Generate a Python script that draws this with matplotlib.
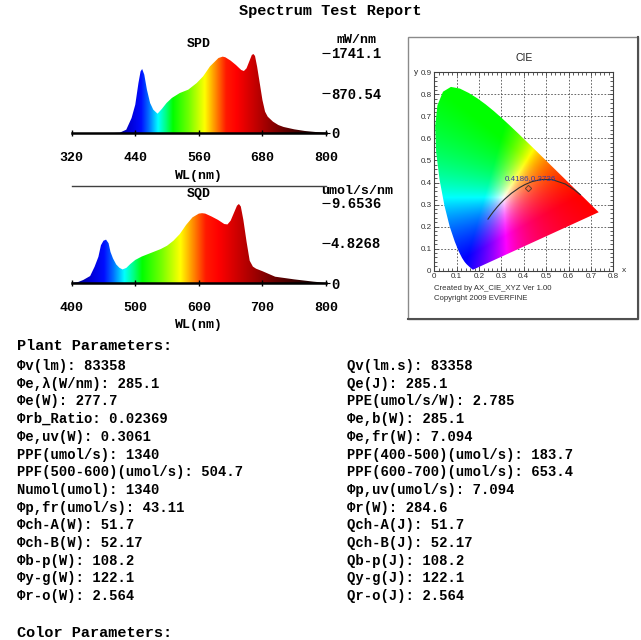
import matplotlib
matplotlib.use('Agg')
import matplotlib.pyplot as plt
import numpy as np
from matplotlib.patches import Polygon, Rectangle
from matplotlib.lines import Line2D
from matplotlib.ticker import MultipleLocator, FuncFormatter

# ---- data ----
spd_wl = [320, 340, 360, 380, 400, 411, 423, 433, 440, 446, 450, 453, 457, 462, 468, 474,
          482, 490, 499, 509, 524, 540, 556, 568, 581, 597, 605, 610, 620, 630, 640, 645,
          650, 655, 660, 663, 666, 670, 675, 680, 685, 690, 700, 710, 720, 740, 760, 780, 800]
spd_val = [0, 0, 0, 0, 2, 8, 72, 326, 616, 1088, 1340, 1393, 1270, 943, 653, 508,
           420, 522, 653, 762, 870, 943, 1088, 1232, 1450, 1632, 1662, 1648, 1575, 1480, 1371, 1349,
           1408, 1553, 1698, 1719, 1676, 1443, 1081, 718, 464, 355, 246, 174, 131, 80, 44, 22, 8]
spd_ticks = [0, 870.54, 1741.1]

sqd_wl = [400, 410, 418, 429, 436, 442, 446, 450, 454, 458, 461, 465, 470, 475, 480, 486,
          492, 500, 510, 520, 530, 540, 550, 560, 570, 580, 590, 600, 605, 610, 620, 630,
          640, 645, 650, 655, 660, 663, 666, 670, 675, 680, 685, 690, 700, 720, 750, 780, 800]
sqd_val = [0.05, 0.15, 0.39, 0.87, 1.98, 3.17, 4.56, 5.1, 5.23, 4.8, 3.76, 2.97, 2.26, 1.86, 1.66, 1.85,
           2.3, 2.8, 3.2, 3.5, 3.8, 4.1, 4.5, 5.1, 5.9, 7.0, 7.9, 8.35, 8.4, 8.35, 8.0, 7.6,
           7.1, 7.05, 7.5, 8.4, 9.3, 9.5, 9.2, 7.6, 5.0, 2.7, 2.0, 1.75, 1.45, 0.79, 0.47, 0.2, 0.05]
sqd_ticks = [0, 4.8268, 9.6536]

# CIE 1931 spectral locus (every few nm) and Planckian locus
locus_x = [0.1741, 0.1733, 0.1714, 0.1644, 0.1566, 0.1440, 0.1355, 0.1241, 0.1096, 0.0913,
           0.0687, 0.0454, 0.0235, 0.0082, 0.0039, 0.0139, 0.0389, 0.0743, 0.1142, 0.1547,
           0.1929, 0.2296, 0.2658, 0.3016, 0.3373, 0.3731, 0.4087, 0.4441, 0.4788, 0.5125,
           0.5448, 0.5752, 0.6029, 0.6270, 0.6658, 0.6915, 0.7079, 0.7190, 0.7260, 0.7334, 0.7347]
locus_y = [0.0050, 0.0048, 0.0051, 0.0109, 0.0177, 0.0297, 0.0399, 0.0578, 0.0868, 0.1327,
           0.2007, 0.2950, 0.4127, 0.5384, 0.6548, 0.7502, 0.8120, 0.8338, 0.8262, 0.8059,
           0.7816, 0.7543, 0.7243, 0.6923, 0.6589, 0.6245, 0.5896, 0.5547, 0.5202, 0.4866,
           0.4544, 0.4242, 0.3965, 0.3725, 0.3340, 0.3083, 0.2920, 0.2809, 0.2740, 0.2666, 0.2653]
planck_x = [0.2399, 0.2525, 0.2637, 0.2807, 0.2952, 0.3135, 0.3451, 0.3805, 0.4053, 0.4369,
            0.4770, 0.5267, 0.5857, 0.6251, 0.6528]
planck_y = [0.2340, 0.2522, 0.2674, 0.2884, 0.3048, 0.3237, 0.3516, 0.3768, 0.3907, 0.4041,
            0.4137, 0.4133, 0.3931, 0.3674, 0.3444]
point_x, point_y = 0.4186, 0.3736

left_rows = ['Φv(lm): 83358', 'Φe,λ(W/nm): 285.1', 'Φe(W): 277.7', 'Φrb_Ratio: 0.02369',
             'Φe,uv(W): 0.3061', 'PPF(umol/s): 1340', 'PPF(500-600)(umol/s): 504.7',
             'Numol(umol): 1340', 'Φp,fr(umol/s): 43.11', 'Φch-A(W): 51.7', 'Φch-B(W): 52.17',
             'Φb-p(W): 108.2', 'Φy-g(W): 122.1', 'Φr-o(W): 2.564']
right_rows = ['Qv(lm.s): 83358', 'Qe(J): 285.1', 'PPE(umol/s/W): 2.785', 'Φe,b(W): 285.1',
              'Φe,fr(W): 7.094', 'PPF(400-500)(umol/s): 183.7', 'PPF(600-700)(umol/s): 653.4',
              'Φp,uv(umol/s): 7.094', 'Φr(W): 284.6', 'Qch-A(J): 51.7', 'Qch-B(J): 52.17',
              'Qb-p(J): 108.2', 'Qy-g(J): 122.1', 'Qr-o(J): 2.564']

# ---- styling helpers ----
W, H = 641, 640
MONO = ['Liberation Mono', 'DejaVu Sans Mono']
SANS = ['Liberation Sans', 'DejaVu Sans']


def fx(px):
    return px / W


def fy(py):
    return 1 - py / H


stop_wl = [300, 400, 430, 450, 465, 482, 497, 510, 540, 570, 590, 610, 630, 660, 690, 720, 760, 800]
stop_rgb = [(0, 0, 0.1), (0, 0, 0.45), (0, 0, 0.85), (0, 0.05, 1), (0, 0.45, 1), (0, 1, 1),
            (0, 1, 0.5), (0, 1, 0), (0.45, 1, 0), (1, 1, 0), (1, 0.55, 0), (1, 0.1, 0),
            (1, 0, 0), (0.8, 0, 0), (0.6, 0, 0), (0.4, 0, 0), (0.18, 0, 0), (0.05, 0, 0)]
stop_rgb = np.array(stop_rgb)


def spectrum_colors(wls):
    return np.stack([np.interp(wls, stop_wl, stop_rgb[:, i]) for i in range(3)], axis=-1)


def spectrum_panel(ax, wl, val, yticks, ytop, xticks):
    grid = np.linspace(wl[0], wl[-1], 800)
    img = spectrum_colors(grid)[None, :, :]
    verts = [(wl[0], 0)] + list(zip(wl, val)) + [(wl[-1], 0)]
    patch = Polygon(verts, closed=True, facecolor='none', edgecolor='none')
    ax.add_patch(patch)
    im = ax.imshow(img, extent=[wl[0], wl[-1], 0, max(val)], aspect='auto',
                   origin='lower', interpolation='bilinear', zorder=1)
    im.set_clip_path(patch)
    ax.set_xlim(wl[0], wl[-1])
    ax.set_ylim(0, ytop)
    ax.set_xticks(xticks)
    ax.set_xticklabels([str(t) for t in xticks], fontsize=9.5, fontweight='bold', family=MONO)
    ax.yaxis.tick_right()
    ax.set_yticks(yticks)
    ax.set_yticklabels(['0' if t == 0 else f'{t:g}' for t in yticks], fontsize=10,
                       fontweight='bold', family=MONO)
    ax.tick_params(axis='x', direction='inout', length=5, width=1, pad=11)
    ax.tick_params(axis='y', direction='inout', length=6, width=0.8, pad=0.5)
    for s in ('left', 'right', 'top'):
        ax.spines[s].set_visible(False)
    ax.spines['bottom'].set_linewidth(1.8)
    ax.spines['bottom'].set_zorder(3)
    ax.patch.set_visible(False)


fig = plt.figure(figsize=(W / 100, H / 100), dpi=100)

fig.text(fx(330), fy(11), 'Spectrum Test Report', ha='center', va='center',
         fontsize=11, fontweight='bold', family=MONO)

# SPD
ax1 = fig.add_axes([fx(71.7), fy(133), fx(326) - fx(71.7), (133 - 48) / H])
spectrum_panel(ax1, spd_wl, spd_val, spd_ticks, 1741.1 * 85 / 80, [320, 440, 560, 680, 800])
fig.text(fx(199), fy(44), 'SPD', ha='center', va='center', fontsize=9.5, fontweight='bold', family=MONO)
fig.text(fx(357), fy(40), 'mW/nm', ha='center', va='center', fontsize=9.5, fontweight='bold', family=MONO)
fig.text(fx(199), fy(176), 'WL(nm)', ha='center', va='center', fontsize=9.5, fontweight='bold', family=MONO)

# SQD
ax2 = fig.add_axes([fx(71.7), fy(283.3), fx(326) - fx(71.7), (283.3 - 185.7) / H])
spectrum_panel(ax2, sqd_wl, sqd_val, sqd_ticks, 9.6536 * 97.6 / 80.6, [400, 500, 600, 700, 800])
ax2.spines['top'].set_visible(True)
ax2.spines['top'].set_color('#404040')
ax2.spines['top'].set_linewidth(1)
fig.text(fx(199), fy(193.5), 'SQD', ha='center', va='center', fontsize=9.5, fontweight='bold', family=MONO)
fig.text(fx(357), fy(190.7), 'umol/s/nm', ha='center', va='center', fontsize=9.5, fontweight='bold', family=MONO)
fig.text(fx(199), fy(325.3), 'WL(nm)', ha='center', va='center', fontsize=9.5, fontweight='bold', family=MONO)

# CIE box
fig.add_artist(Rectangle((fx(408), fy(319)), fx(638) - fx(408), (319 - 37) / H,
                         transform=fig.transFigure, fill=False, edgecolor='#8a8a8a', lw=1))
fig.add_artist(Line2D([fx(638), fx(638), fx(408)], [fy(37), fy(319), fy(319)],
                      transform=fig.transFigure, color='#505050', lw=1.5))

ax3 = fig.add_axes([fx(434.3), fy(270.7), fx(613.3) - fx(434.3), (270.7 - 72.3) / H])
gx = np.linspace(0, 0.8, 321)
gy = np.linspace(0.001, 0.9, 361)
XX, YY = np.meshgrid(gx, gy)
Xc = XX / YY
Zc = (1 - XX - YY) / YY
M = np.array([[3.2406, -1.5372, -0.4986], [-0.9689, 1.8758, 0.0415], [0.0557, -0.2040, 1.0570]])
rgb = np.einsum('ij,jkl->kli', M, np.stack([Xc, np.ones_like(Xc), Zc]))
rgb = np.clip(rgb, 0, None)
rgb = rgb / rgb.max(axis=2, keepdims=True)
horse = Polygon(list(zip(locus_x, locus_y)), closed=True, facecolor='none', edgecolor='none')
ax3.add_patch(horse)
im3 = ax3.imshow(rgb, extent=[0, 0.8, 0.001, 0.9], origin='lower', aspect='auto',
                 interpolation='bilinear', zorder=1)
im3.set_clip_path(horse)
ax3.plot(planck_x, planck_y, color='#303030', lw=0.8, zorder=2)
ax3.plot([point_x], [point_y], marker='D', ms=3.2, mfc='none', mec='#604030', mew=0.7, zorder=3)
ax3.text(0.316, 0.40, f'{point_x},{point_y}', color='#3a3aa0', fontsize=5.8, family=SANS,
         va='bottom', zorder=3)
ax3.set_xlim(0, 0.8)
ax3.set_ylim(0, 0.9)
ax3.xaxis.set_major_locator(MultipleLocator(0.1))
ax3.yaxis.set_major_locator(MultipleLocator(0.1))
ax3.xaxis.set_minor_locator(MultipleLocator(0.02))
ax3.yaxis.set_minor_locator(MultipleLocator(0.02))
fmt = FuncFormatter(lambda v, p: '0' if abs(v) < 1e-9 else f'{v:.1f}')
ax3.xaxis.set_major_formatter(fmt)
ax3.yaxis.set_major_formatter(fmt)
ax3.tick_params(which='both', direction='in', top=True, right=True, color='#404040',
                labelsize=5.8, labelcolor='#303030', pad=2)
ax3.tick_params(which='major', length=3, width=0.6)
ax3.tick_params(which='minor', length=2, width=0.6)
for lab in ax3.get_xticklabels() + ax3.get_yticklabels():
    lab.set_family(SANS)
ax3.grid(True, which='major', color='#505050', lw=0.6, ls=(0, (2, 2)), zorder=0)
ax3.set_axisbelow(True)
for s in ax3.spines.values():
    s.set_color('#404040')
    s.set_linewidth(0.8)
fig.text(fx(524), fy(58), 'CIE', ha='center', va='center', fontsize=7.5, family=SANS, color='#202020')
fig.text(fx(416), fy(72), 'y', ha='center', va='center', fontsize=6, family=SANS, color='#303030')
fig.text(fx(624), fy(271), 'x', ha='center', va='center', fontsize=6, family=SANS, color='#303030')
fig.text(fx(434), fy(289), 'Created by AX_CIE_XYZ Ver 1.00', ha='left', va='center',
         fontsize=5.6, family=SANS, color='#303030')
fig.text(fx(434), fy(299), 'Copyright 2009 EVERFINE', ha='left', va='center',
         fontsize=5.6, family=SANS, color='#303030')

# parameter listing
fig.text(fx(16.7), fy(346), 'Plant Parameters:', ha='left', va='center', fontsize=11,
         fontweight='bold', family=MONO)
for i, (lt, rt) in enumerate(zip(left_rows, right_rows)):
    yy = fy(366 + i * 17.7)
    fig.text(fx(16.7), yy, lt, ha='left', va='center', fontsize=10, fontweight='bold', family=MONO)
    fig.text(fx(346.7), yy, rt, ha='left', va='center', fontsize=10, fontweight='bold', family=MONO)
fig.text(fx(16.7), fy(633), 'Color Parameters:', ha='left', va='center', fontsize=11,
         fontweight='bold', family=MONO)

fig.savefig('out.png', dpi=100)
